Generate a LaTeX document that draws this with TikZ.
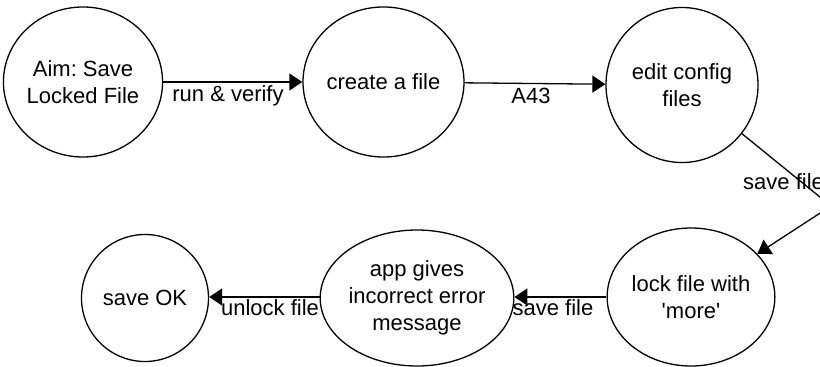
\documentclass[tikz,border=0pt]{standalone}
\usepackage{fontspec}
\setmainfont{Liberation Sans}
\usetikzlibrary{shapes.geometric,arrows.meta}
\frenchspacing
\begin{document}
\begin{tikzpicture}[x=1pt,y=-1pt,
  state/.style={ellipse,draw,line width=1.3pt,inner sep=0pt,align=center,
    font=\fontsize{22}{27}\selectfont},
  lbl/.style={inner sep=0pt,font=\fontsize{22}{27}\selectfont},
  conn/.style={line width=1.3pt,-{Triangle[length=13pt,width=17pt]}}]
\useasboundingbox (0,0) rectangle (820,367);
\clip (0,0) rectangle (820,367);
\node[state,minimum width=144pt,minimum height=150pt] (c1) at (83,82) {Aim: Save\\Locked File};
\node[state,minimum width=161pt,minimum height=150pt] (c2) at (383.5,82) {create a file};
\node[state,minimum width=152pt,minimum height=155pt] (c3) at (682,85) {edit config\\files};
\node[state,minimum width=156pt,minimum height=138pt] (c4) at (691,297) {lock file with\\\textquotesingle more\textquotesingle};
\node[state,minimum width=165pt,minimum height=136pt] (c5) at (417,298) {app gives\\incorrect error\\message};
\node[state,minimum width=127pt,minimum height=127pt] (c6) at (145,298) {save OK};
\coordinate (bend) at (831,206);
\draw[conn] (c1) -- (c2);
\draw[conn] (c2) -- (c3);
\draw[conn] (c3) -- (bend) -- (c4);
\draw[conn] (c4.west |- 0,297) -- (c5.east |- 0,297);
\draw[conn] (c5.west |- 0,297) -- (c6.east |- 0,297);
\node[lbl] (l1) at (228,96) {run \& verify};
\node[lbl] (l2) at (531,96) {A43};
\node[lbl,anchor=west] (l3) at (743,182) {save file};
\node[lbl] (l4) at (553,308) {save file};
\node[lbl] (l5) at (270,308) {unlock file};
\end{tikzpicture}
\end{document}
